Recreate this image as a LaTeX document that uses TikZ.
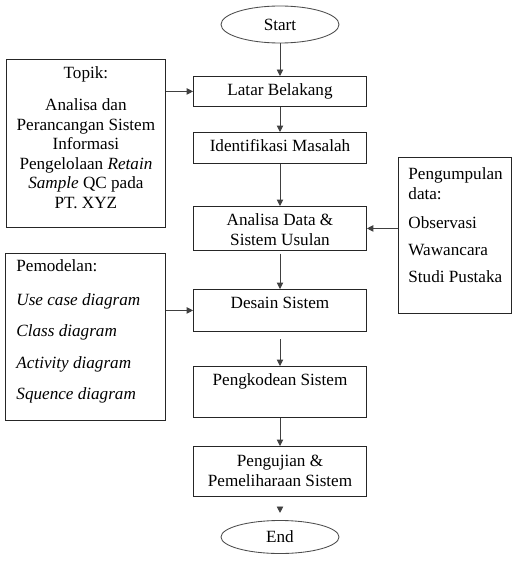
\documentclass[tikz,border=0pt]{standalone}
\usepackage{fontspec}
\setmainfont{Liberation Serif}
\usetikzlibrary{shapes.geometric,arrows.meta}

% fixed-size box body: height, width, first strut, alignment, text
\newcommand{\boxbody}[5]{\parbox[c][#1][t]{#2}{#4\rule{0pt}{#3}#5}}

\begin{document}
\begin{tikzpicture}[x=0.7pt,y=-0.7pt,
  every node/.style={font=\fontsize{12}{13.7}\selectfont},
  stepbox/.style={draw=black!85,line width=0.6pt,inner sep=0pt,anchor=north},
  termbox/.style={ellipse,draw=black!70,line width=0.6pt,inner sep=0pt,
    minimum width=82.6pt,minimum height=25.9pt},
  sidebox/.style={draw=black!85,line width=0.6pt,inner sep=0pt,anchor=north west},
  flow/.style={draw=black!75,line width=0.6pt,-{Triangle[length=4.5pt,width=4.5pt]}}]

  \useasboundingbox (0,0) rectangle (513,561);

  % main column
  \node[termbox] (start) at (280,24.5) {Start};
  \node[stepbox] (latar) at (280,76)
    {\boxbody{21pt}{121.1pt}{13.3pt}{\centering}{Latar Belakang}};
  \node[stepbox] (ident) at (280,132)
    {\boxbody{21.7pt}{121.1pt}{13.3pt}{\centering}{Identifikasi Masalah}};
  \node[stepbox] (analisa) at (280,206)
    {\boxbody{30.8pt}{121.1pt}{13.3pt}{\centering}{Analisa Data \&\\Sistem Usulan}};
  \node[stepbox] (desain) at (280,289)
    {\boxbody{29.4pt}{121.1pt}{13.6pt}{\centering}{Desain Sistem}};
  \node[stepbox] (kode) at (280,366)
    {\boxbody{35.7pt}{121.1pt}{13.6pt}{\centering}{Pengkodean Sistem}};
  \node[stepbox] (uji) at (280,446)
    {\boxbody{35pt}{121.1pt}{14pt}{\centering}{Pengujian \&\\Pemeliharaan Sistem}};
  \node[termbox,minimum height=23.1pt] (stop) at (280,537) {End};

  % side boxes
  \node[sidebox] (topik) at (6,59)
    {\boxbody{117.6pt}{111.3pt}{13.3pt}{\centering}{Topik:\\[8.7pt]
      Analisa dan\\Perancangan Sistem\\Informasi\\Pengelolaan \textit{Retain}\\
      \textit{Sample} QC pada\\PT. XYZ}};
  \node[sidebox] (model) at (5,253)
    {\boxbody{116.9pt}{112pt}{12.3pt}{\raggedright\leftskip=7.7pt}{Pemodelan:\\[10.5pt]
      \textit{Use case diagram}\\[8pt]\textit{Class diagram}\\[8.4pt]
      \textit{Activity diagram}\\[8pt]\textit{Squence diagram}}};
  \node[sidebox] (data) at (398,157)
    {\boxbody{109.2pt}{79.1pt}{15.1pt}{\raggedright\leftskip=7pt}{Pengumpulan\\[0.6pt]
      data:\\[6.6pt]Observasi\\[5.2pt]Wawancara\\[5.2pt]Studi Pustaka}};

  % connectors
  \draw[flow] (start) -- (latar);
  \draw[flow] (latar) -- (ident);
  \draw[flow] (ident) -- (analisa);
  \draw[flow,shorten <=2pt] (analisa) -- (desain);
  \draw[flow,shorten <=5pt] (desain) -- (kode);
  \draw[flow] (kode) -- (uji);
  \draw[flow,shorten <=7pt,shorten >=5pt] (uji) -- (stop);

  \draw[flow] (topik.east |- latar.west) -- (latar.west);
  \draw[flow] (model.east |- desain.west) -- (desain.west);
  \draw[flow] (data.west |- analisa.east) -- (analisa.east);
\end{tikzpicture}
\end{document}
